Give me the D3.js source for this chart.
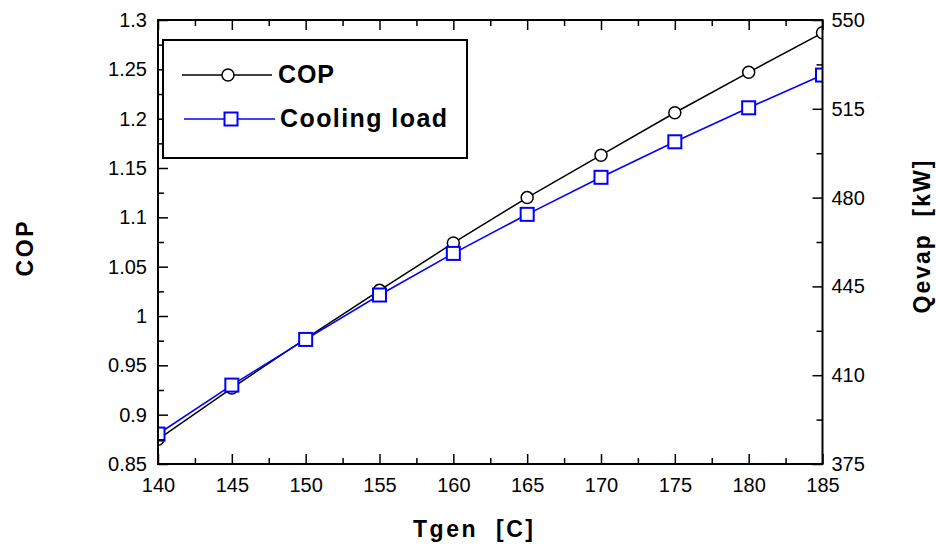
<!DOCTYPE html>
<html>
<head>
<meta charset="utf-8">
<script src="https://cdn.jsdelivr.net/npm/d3@7"></script>
<style>
  html, body { margin: 0; padding: 0; background: #fff; }
  svg { display: block; font-family: Arial, "Liberation Sans", sans-serif; }
</style>
</head>
<body>
<svg id="chart" width="936" height="548"></svg>
<script>
// Data
const tgen = [140, 145, 150, 155, 160, 165, 170, 175, 180, 185];
const cop = [0.875, 0.927, 0.977, 1.026, 1.074, 1.120, 1.163, 1.206, 1.247, 1.287];
const coolingLoad = [386.8, 406.1, 424.1, 441.6, 458.0, 473.4, 488.0, 502.0, 515.4, 528.3];

const xTicks = [140, 145, 150, 155, 160, 165, 170, 175, 180, 185];
const copTicks = [0.85, 0.9, 0.95, 1, 1.05, 1.1, 1.15, 1.2, 1.25, 1.3];
const qTicks = [375, 410, 445, 480, 515, 550];

const seriesNames = ["COP", "Cooling load"];

const plotLeft = 158, plotRight = 822.5, plotTop = 20, plotBottom = 464;

const svg = d3.select("#chart");

const x = d3.scaleLinear().domain([140, 185]).range([plotLeft, plotRight]);
const yL = d3.scaleLinear().domain([0.85, 1.3]).range([plotBottom, plotTop]);
const yR = d3.scaleLinear().domain([375, 550]).range([plotBottom, plotTop]);

// minor ticks halfway between the majors
function halfways(ticks) {
    const out = [];
    for (let i = 0; i < ticks.length - 1; i++) out.push((ticks[i] + ticks[i + 1]) / 2);
    return out;
}

svg.append("defs").append("clipPath")
    .attr("id", "plotClip")
    .append("rect")
    .attr("x", plotLeft).attr("y", plotTop)
    .attr("width", plotRight - plotLeft).attr("height", plotBottom - plotTop);

// Series
const plot = svg.append("g").attr("clip-path", "url(#plotClip)");

const copLine = d3.line()
    .x((d, i) => x(tgen[i]))
    .y(d => yL(d));
const qLine = d3.line()
    .x((d, i) => x(tgen[i]))
    .y(d => yR(d));

plot.append("path")
    .datum(cop)
    .attr("d", copLine)
    .attr("fill", "none")
    .attr("stroke", "#000")
    .attr("stroke-width", 1.5);

plot.selectAll(".copPt")
    .data(cop)
    .enter()
    .append("circle")
    .attr("class", "copPt")
    .attr("cx", (d, i) => x(tgen[i]))
    .attr("cy", d => yL(d))
    .attr("r", 6)
    .attr("fill", "#fff")
    .attr("stroke", "#000")
    .attr("stroke-width", 1.5);

plot.append("path")
    .datum(coolingLoad)
    .attr("d", qLine)
    .attr("fill", "none")
    .attr("stroke", "#0000ff")
    .attr("stroke-width", 1.6);

const sq = 13;
plot.selectAll(".qPt")
    .data(coolingLoad)
    .enter()
    .append("rect")
    .attr("class", "qPt")
    .attr("x", (d, i) => x(tgen[i]) - sq / 2)
    .attr("y", d => yR(d) - sq / 2)
    .attr("width", sq)
    .attr("height", sq)
    .attr("fill", "#fff")
    .attr("stroke", "#0000ff")
    .attr("stroke-width", 2);

// Axes (ticks point inward)
function styleAxis(g) {
    g.select(".domain").remove();
    g.selectAll(".tick line").attr("stroke", "#000").attr("stroke-width", 1.5);
    g.selectAll("text")
        .attr("fill", "#000")
        .style("font-size", "20px")
        .style("font-family", "Arial, 'Liberation Sans', sans-serif");
}

// bottom
svg.append("g")
    .attr("transform", `translate(0,${plotBottom})`)
    .call(d3.axisBottom(x).tickValues(xTicks).tickSizeInner(-10).tickSizeOuter(0).tickPadding(14).tickFormat(d => String(d)))
    .call(styleAxis);
svg.append("g")
    .attr("transform", `translate(0,${plotBottom})`)
    .call(d3.axisBottom(x).tickValues(halfways(xTicks)).tickSizeInner(-6).tickSizeOuter(0).tickFormat(""))
    .call(styleAxis);

// top
svg.append("g")
    .attr("transform", `translate(0,${plotTop})`)
    .call(d3.axisTop(x).tickValues(xTicks).tickSizeInner(-10).tickSizeOuter(0).tickFormat(""))
    .call(styleAxis);
svg.append("g")
    .attr("transform", `translate(0,${plotTop})`)
    .call(d3.axisTop(x).tickValues(halfways(xTicks)).tickSizeInner(-6).tickSizeOuter(0).tickFormat(""))
    .call(styleAxis);

// left (COP)
svg.append("g")
    .attr("transform", `translate(${plotLeft},0)`)
    .call(d3.axisLeft(yL).tickValues(copTicks).tickSizeInner(-10).tickSizeOuter(0).tickPadding(11).tickFormat(d => String(d)))
    .call(styleAxis);
svg.append("g")
    .attr("transform", `translate(${plotLeft},0)`)
    .call(d3.axisLeft(yL).tickValues(halfways(copTicks)).tickSizeInner(-6).tickSizeOuter(0).tickFormat(""))
    .call(styleAxis);

// right (Qevap)
svg.append("g")
    .attr("transform", `translate(${plotRight},0)`)
    .call(d3.axisRight(yR).tickValues(qTicks).tickSizeInner(-10).tickSizeOuter(0).tickPadding(9).tickFormat(d => String(d)))
    .call(styleAxis);
svg.append("g")
    .attr("transform", `translate(${plotRight},0)`)
    .call(d3.axisRight(yR).tickValues(halfways(qTicks)).tickSizeInner(-6).tickSizeOuter(0).tickFormat(""))
    .call(styleAxis);

// frame
svg.append("rect")
    .attr("x", plotLeft).attr("y", plotTop)
    .attr("width", plotRight - plotLeft).attr("height", plotBottom - plotTop)
    .attr("fill", "none")
    .attr("stroke", "#000")
    .attr("stroke-width", 2);

// Axis titles
svg.append("text")
    .attr("x", 473)
    .attr("y", 537)
    .attr("text-anchor", "middle")
    .attr("textLength", 120)
    .attr("lengthAdjust", "spacing")
    .style("white-space", "pre")
    .style("font-size", "23px")
    .style("font-weight", "bold")
    .text("Tgen  [C]");

svg.append("text")
    .attr("transform", "translate(33,249) rotate(-90)")
    .attr("text-anchor", "middle")
    .attr("textLength", 55)
    .attr("lengthAdjust", "spacing")
    .style("font-size", "23px")
    .style("font-weight", "bold")
    .text("COP");

svg.append("text")
    .attr("transform", "translate(930,237) rotate(-90)")
    .attr("text-anchor", "middle")
    .attr("textLength", 153)
    .attr("lengthAdjust", "spacing")
    .style("white-space", "pre")
    .style("font-size", "23px")
    .style("font-weight", "bold")
    .text("Qevap  [kW]");

// Legend
const legend = svg.append("g");
legend.append("rect")
    .attr("x", 163).attr("y", 40)
    .attr("width", 304).attr("height", 118)
    .attr("fill", "#fff")
    .attr("stroke", "#000")
    .attr("stroke-width", 2);

legend.append("line")
    .attr("x1", 182).attr("x2", 272).attr("y1", 75).attr("y2", 75)
    .attr("stroke", "#000").attr("stroke-width", 1.5);
legend.append("circle")
    .attr("cx", 228).attr("cy", 75).attr("r", 6)
    .attr("fill", "#fff").attr("stroke", "#000").attr("stroke-width", 1.5);
legend.append("text")
    .attr("x", 278).attr("y", 83)
    .attr("textLength", 56)
    .attr("lengthAdjust", "spacing")
    .style("font-size", "25px")
    .style("font-weight", "bold")
    .text(seriesNames[0]);

legend.append("line")
    .attr("x1", 184).attr("x2", 275).attr("y1", 119).attr("y2", 119)
    .attr("stroke", "#0000ff").attr("stroke-width", 1.6);
legend.append("rect")
    .attr("x", 231 - sq / 2).attr("y", 119 - sq / 2)
    .attr("width", sq).attr("height", sq)
    .attr("fill", "#fff").attr("stroke", "#0000ff").attr("stroke-width", 2);
legend.append("text")
    .attr("x", 280).attr("y", 127)
    .attr("textLength", 167)
    .attr("lengthAdjust", "spacing")
    .style("font-size", "25px")
    .style("font-weight", "bold")
    .text(seriesNames[1]);
</script>
</body>
</html>
